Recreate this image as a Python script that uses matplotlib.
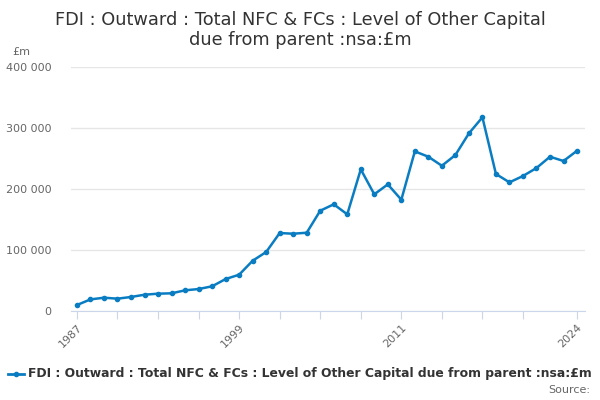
import matplotlib
matplotlib.use("Agg")
import matplotlib.pyplot as plt
from matplotlib.ticker import FuncFormatter, FixedLocator

years = list(range(1987, 2025))
values = [
    9800, 19000, 21800, 20200, 23000, 26700, 28400, 29000, 33900, 36000,
    40500, 52400, 59500, 82400, 96700, 127800, 126700, 128300, 164400, 174900,
    158500, 232200, 191300, 207600, 182400, 261700, 252900, 238100, 255700, 291200,
    317500, 224600, 210900, 221300, 234400, 252900, 245900, 262700,
]
tick_years = [1987, 1990, 1993, 1996, 1999, 2002, 2005, 2008, 2011, 2014, 2017, 2020, 2024]
label_years = [1987, 1999, 2011, 2024]
y_ticks = [0, 100000, 200000, 300000, 400000]

title = "FDI : Outward : Total NFC & FCs : Level of Other Capital\ndue from parent :nsa:£m"
series_name = "FDI : Outward : Total NFC & FCs : Level of Other Capital due from parent :nsa:£m"

line_color = "#0a7dc2"
axis_color = "#ccd6eb"
text_color = "#666666"

fig = plt.figure(figsize=(6, 4), dpi=100)
ax = fig.add_axes([71 / 600, 1 - 311 / 400, 514 / 600, 244 / 400])

ax.plot(years, values, color=line_color, linewidth=1.8, marker="o", markersize=3, zorder=3)

ax.set_xlim(1986.56, 2024.59)
ax.set_ylim(0, 400000)

ax.set_yticks(y_ticks)
ax.yaxis.set_major_formatter(FuncFormatter(lambda v, p: f"{int(v):,}".replace(",", " ")))
ax.grid(axis="y", color="#e6e6e6", linewidth=1)
ax.set_axisbelow(True)
ax.tick_params(axis="y", length=0, labelsize=8, labelcolor=text_color, pad=14)

ax.xaxis.set_major_locator(FixedLocator(tick_years))
ax.set_xticklabels([str(y) if y in label_years else "" for y in tick_years],
                   rotation=45, ha="right", rotation_mode="anchor")
ax.tick_params(axis="x", length=6, color=axis_color, labelsize=8, labelcolor=text_color, pad=2)

for s in ["top", "right", "left"]:
    ax.spines[s].set_visible(False)
ax.spines["bottom"].set_color(axis_color)

fig.text(0.5, 1 - 30 / 400, title, ha="center", va="center", fontsize=12.8, color="#333333",
         linespacing=1.12)
fig.text(12 / 600, 1 - 52 / 400, "£m", ha="left", va="center", fontsize=8, color=text_color)

# legend
lx, ly = 8 / 600, 1 - 374 / 400
fig.lines.append(plt.Line2D([lx, lx + 16 / 600], [ly, ly], color=line_color, linewidth=2,
                            transform=fig.transFigure))
fig.lines.append(plt.Line2D([lx + 8 / 600], [ly], color=line_color, marker="o", markersize=3,
                            transform=fig.transFigure))
fig.text(28 / 600, ly, series_name, ha="left", va="center", fontsize=8.9, fontweight="bold",
         color="#333333")
fig.text(590 / 600, 1 - 390 / 400, "Source:", ha="right", va="center", fontsize=8, color=text_color)

fig.savefig("out.png", dpi=100)
